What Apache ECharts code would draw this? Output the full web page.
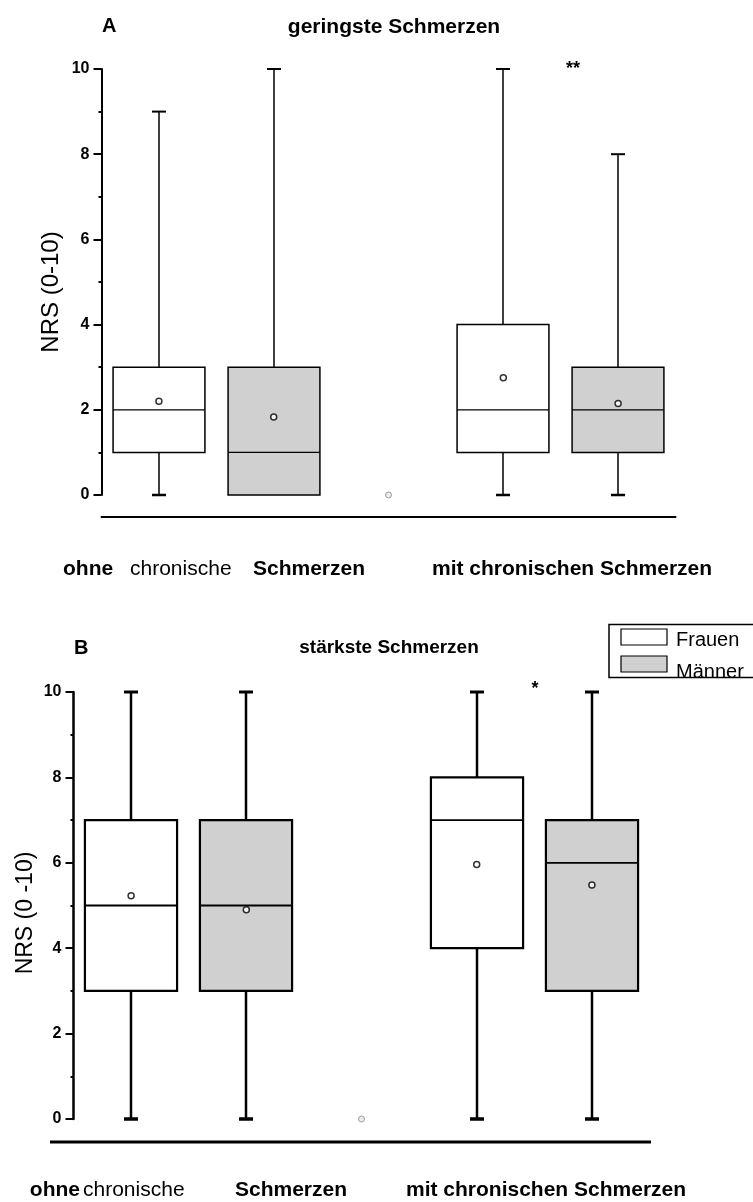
<!DOCTYPE html>
<html>
<head>
<meta charset="utf-8">
<script src="https://cdn.jsdelivr.net/npm/echarts@6/dist/echarts.min.js"></script>
<style>html,body{margin:0;padding:0;background:#fff}#c{width:753px;height:1202px}</style>
</head>
<body>
<div id="c"></div>
<script>
// ---- data ----
const categories = ['Frauen ohne', 'Männer ohne', '', 'Frauen mit', 'Männer mit'];
const yTicks = [0, 2, 4, 6, 8, 10];
// [categoryIndex, min, Q1, median, Q3, max]
const boxA_Frauen = [[0, 0, 1, 2, 3, 9], [3, 0, 1, 2, 4, 10]];
const boxA_Maenner = [[1, 0, 0, 1, 3, 10], [4, 0, 1, 2, 3, 8]];
const meanA = [[0, 2.2], [1, 1.83], [3, 2.75], [4, 2.15]];
const outlierA = [[2, 0]];
const boxB_Frauen = [[0, 0, 3, 5, 7, 10], [3, 0, 4, 7, 8, 10]];
const boxB_Maenner = [[1, 0, 3, 5, 7, 10], [4, 0, 3, 6, 7, 10]];
const meanB = [[0, 5.23], [1, 4.9], [3, 5.96], [4, 5.48]];
const outlierB = [[2, 0]];
const titlesA = ['A', 'geringste Schmerzen'];
const titlesB = ['B', 'stärkste Schmerzen'];
const yNameA = 'NRS (0-10)';
const yNameB = 'NRS (0 -10)';
const legendNames = ['Frauen', 'Männer'];

const FONT = '"Liberation Sans", Arial, sans-serif';
const GREY = '#d0d0d0';

function makeRender(fill, lw, wlw) {
  return function (params, api) {
    const x = api.value(0);
    const mn = api.value(1), q1 = api.value(2), md = api.value(3), q3 = api.value(4), mx = api.value(5);
    const w = api.size([1, 0])[0] * 0.8;
    const pMin = api.coord([x, mn]), pQ1 = api.coord([x, q1]), pMd = api.coord([x, md]),
          pQ3 = api.coord([x, q3]), pMx = api.coord([x, mx]);
    const cx = Math.round(pMd[0]);
    const cap = 14;
    const children = [];
    if (mx > q3) {
      children.push({type: 'line', shape: {x1: cx, y1: pMx[1], x2: cx, y2: pQ3[1]}, style: {stroke: '#000', lineWidth: wlw}});
      children.push({type: 'line', shape: {x1: cx - cap / 2, y1: pMx[1], x2: cx + cap / 2, y2: pMx[1]}, style: {stroke: '#000', lineWidth: wlw + 0.5}});
    }
    if (mn < q1) {
      children.push({type: 'line', shape: {x1: cx, y1: pQ1[1], x2: cx, y2: pMin[1]}, style: {stroke: '#000', lineWidth: wlw}});
      children.push({type: 'line', shape: {x1: cx - cap / 2, y1: pMin[1], x2: cx + cap / 2, y2: pMin[1]}, style: {stroke: '#000', lineWidth: wlw + 1}});
    }
    children.push({type: 'rect', shape: {x: cx - w / 2, y: pQ3[1], width: w, height: pQ1[1] - pQ3[1]}, style: {fill: fill, stroke: '#000', lineWidth: lw}});
    children.push({type: 'line', shape: {x1: cx - w / 2, y1: pMd[1], x2: cx + w / 2, y2: pMd[1]}, style: {stroke: '#000', lineWidth: lw * 0.8}});
    return {type: 'group', children: children};
  };
}

function yAxisCfg(gi, lw) {
  return {
    type: 'value', gridIndex: gi, min: 0, max: 10, interval: 2,
    axisLine: {show: true, lineStyle: {color: '#000', width: lw}},
    axisTick: {show: true, length: 8, lineStyle: {color: '#000', width: 2}},
    minorTick: {show: true, splitNumber: 2, length: 3, lineStyle: {color: '#000', width: 2}},
    splitLine: {show: false},
    axisLabel: {color: '#000', fontFamily: FONT, fontWeight: 'bold', fontSize: 16, margin: 12,
      formatter: v => (yTicks.indexOf(v) >= 0 ? String(v) : '')}
  };
}

const chart = echarts.init(document.getElementById('c'), null, {renderer: 'canvas'});

const option = {
  animation: false,
  backgroundColor: '#fff',
  grid: [
    {left: 101.5, right: 77.5, top: 69, bottom: 707},
    {left: 73.5, right: 103.5, top: 692, bottom: 83}
  ],
  xAxis: [
    {type: 'category', gridIndex: 0, data: categories, offset: 22,
      axisLine: {show: true, onZero: false, lineStyle: {color: '#000', width: 2}}, axisTick: {show: false}, axisLabel: {show: false}},
    {type: 'category', gridIndex: 1, data: categories, show: false}
  ],
  yAxis: [yAxisCfg(0, 2), yAxisCfg(1, 2.5)],
  series: [
    {type: 'custom', xAxisIndex: 0, yAxisIndex: 0, data: boxA_Frauen, renderItem: makeRender('#fff', 1.5, 1.5)},
    {type: 'custom', xAxisIndex: 0, yAxisIndex: 0, data: boxA_Maenner, renderItem: makeRender(GREY, 1.5, 1.5)},
    {type: 'scatter', xAxisIndex: 0, yAxisIndex: 0, data: meanA, symbol: 'circle', symbolSize: 6, z: 5,
      itemStyle: {color: '#fff', borderColor: '#000', borderWidth: 1.5}},
    {type: 'scatter', xAxisIndex: 0, yAxisIndex: 0, data: outlierA, symbol: 'circle', symbolSize: 6,
      itemStyle: {color: '#e8e8e8', borderColor: '#888', borderWidth: 1}},
    {type: 'custom', xAxisIndex: 1, yAxisIndex: 1, data: boxB_Frauen, renderItem: makeRender('#fff', 2.2, 2.5)},
    {type: 'custom', xAxisIndex: 1, yAxisIndex: 1, data: boxB_Maenner, renderItem: makeRender(GREY, 2.2, 2.5)},
    {type: 'scatter', xAxisIndex: 1, yAxisIndex: 1, data: meanB, symbol: 'circle', symbolSize: 6, z: 5,
      itemStyle: {color: '#fff', borderColor: '#000', borderWidth: 1.5}},
    {type: 'scatter', xAxisIndex: 1, yAxisIndex: 1, data: outlierB, symbol: 'circle', symbolSize: 6,
      itemStyle: {color: '#e8e8e8', borderColor: '#888', borderWidth: 1}}
  ],
  graphic: [
    // Panel A titles and axis name
    {type: 'text', left: 102, top: 16, style: {text: titlesA[0], font: 'bold 20px ' + FONT, fill: '#000'}},
    {type: 'text', x: 394, y: 27, style: {text: titlesA[1], font: 'bold 21px ' + FONT, fill: '#000', align: 'center', verticalAlign: 'middle'}},
    {type: 'text', x: 573, y: 69, style: {text: '**', font: 'bold 18px ' + FONT, fill: '#000', align: 'center', verticalAlign: 'middle'}},
    {type: 'text', x: 51, y: 292, rotation: Math.PI / 2, style: {text: yNameA, font: '24px ' + FONT, fill: '#000', align: 'center', verticalAlign: 'middle'}},
    // Panel A category labels
    {type: 'text', x: 63, y: 569, style: {text: 'ohne', font: 'bold 21px ' + FONT, fill: '#000', verticalAlign: 'middle'}},
    {type: 'text', x: 130, y: 569, style: {text: 'chronische', font: '21px ' + FONT, fill: '#000', verticalAlign: 'middle'}},
    {type: 'text', x: 253, y: 569, style: {text: 'Schmerzen', font: 'bold 21px ' + FONT, fill: '#000', verticalAlign: 'middle'}},
    {type: 'text', x: 432, y: 569, style: {text: 'mit chronischen Schmerzen', font: 'bold 21px ' + FONT, fill: '#000', verticalAlign: 'middle'}},
    // Panel B titles and axis name
    {type: 'text', left: 74, top: 638, style: {text: titlesB[0], font: 'bold 20px ' + FONT, fill: '#000'}},
    {type: 'text', x: 389, y: 648, style: {text: titlesB[1], font: 'bold 19px ' + FONT, fill: '#000', align: 'center', verticalAlign: 'middle'}},
    {type: 'text', x: 535, y: 689, style: {text: '*', font: 'bold 18px ' + FONT, fill: '#000', align: 'center', verticalAlign: 'middle'}},
    {type: 'text', x: 26, y: 913, rotation: Math.PI / 2, style: {text: yNameB, font: '23px ' + FONT, fill: '#000', align: 'center', verticalAlign: 'middle'}},
    // Panel B baseline
    {type: 'line', shape: {x1: 50, y1: 1142, x2: 651, y2: 1142}, style: {stroke: '#000', lineWidth: 3}},
    // Panel B category labels
    {type: 'text', x: 80, y: 1190, style: {text: 'ohne', font: 'bold 21px ' + FONT, fill: '#000', align: 'right', verticalAlign: 'middle'}},
    {type: 'text', x: 83, y: 1190, style: {text: 'chronische', font: '21px ' + FONT, fill: '#000', verticalAlign: 'middle'}},
    {type: 'text', x: 235, y: 1190, style: {text: 'Schmerzen', font: 'bold 21px ' + FONT, fill: '#000', verticalAlign: 'middle'}},
    {type: 'text', x: 406, y: 1190, style: {text: 'mit chronischen Schmerzen', font: 'bold 21px ' + FONT, fill: '#000', verticalAlign: 'middle'}},
    // Legend
    {type: 'rect', shape: {x: 621, y: 629, width: 46, height: 16}, style: {fill: '#fff', stroke: '#000', lineWidth: 1.2}, z: 10},
    {type: 'rect', shape: {x: 621, y: 656, width: 46, height: 16}, style: {fill: GREY, stroke: '#000', lineWidth: 1.2}, z: 10},
    {type: 'text', x: 676, y: 640, style: {text: legendNames[0], font: '20px ' + FONT, fill: '#000', verticalAlign: 'middle'}, z: 10},
    {type: 'text', x: 676, y: 672, style: {text: legendNames[1], font: '20px ' + FONT, fill: '#000', verticalAlign: 'middle'}, z: 10},
    {type: 'rect', shape: {x: 668, y: 679, width: 90, height: 16}, style: {fill: '#fff'}, z: 11},
    {type: 'rect', shape: {x: 609, y: 624.5, width: 160, height: 53}, style: {fill: 'none', stroke: '#000', lineWidth: 1.5}, z: 12}
  ]
};
chart.setOption(option);
</script>
</body>
</html>
